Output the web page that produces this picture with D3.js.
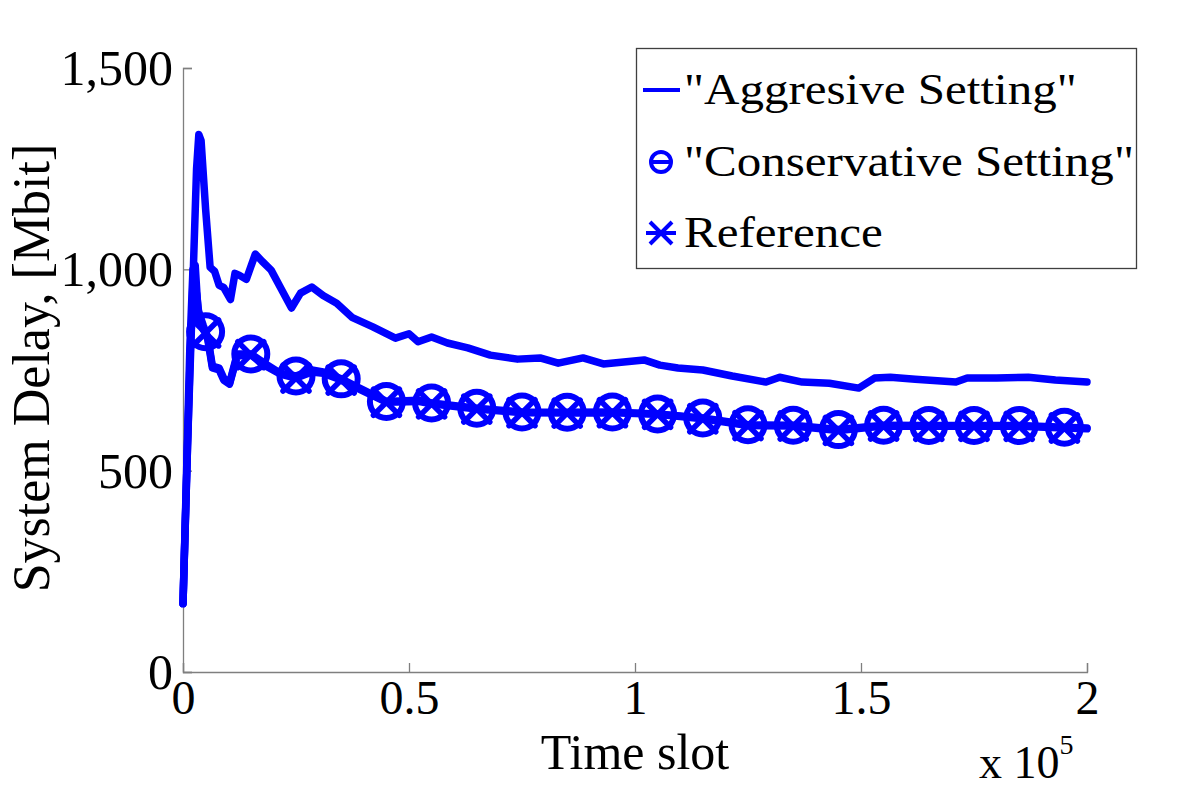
<!DOCTYPE html>
<html><head><meta charset="utf-8">
<script src="https://cdn.jsdelivr.net/npm/d3@7"></script>
<style>body{margin:0;background:#fff}svg{display:block}text{font-family:"Liberation Serif","Times New Roman",serif;fill:#000}</style>
</head><body><svg id="c" width="1200" height="791"></svg>
<script>
// ---- data ----
const aggX = [0,1000,2000,3000,3500,4000,5000,6000,7000,8000,9000,10500,11500,12500,14000,16000,17500,19500,21500,24000,26000,28500,31000,34000,37500,42000,47000,50000,52000,55000,58500,63000,68000,74000,79000,83000,88500,93000,102000,105500,109500,115000,121500,129000,132000,137000,143000,149500,153000,156500,162000,171000,173500,180000,187000,193000,200000];
const aggY = [170,560,900,1250,1335,1320,1150,1005,995,960,955,925,990,985,975,1038,1020,998,956,904,941,956,935,916,880,857,829,840,820,832,817,805,787,777,780,767,780,765,775,762,755,750,735,720,732,720,717,705,730,732,727,720,730,730,732,725,720];
const conX = [0,800,1500,2200,2700,3300,4500,5000,5500,6500,8000,9000,10300,12000,15000,18000,21500,25000,28500,31000,35000,38500,45000,52000,55000,65000,75000,85000,95000,105000,115000,125000,135000,145000,155000,165000,175000,185000,195000,200000];
const conY = [170,500,800,1000,1010,900,860,845,830,760,755,730,717,790,790,767,742,735,750,745,728,708,672,675,668,655,646,645,646,641,631,614,613,602,613,612,612,612,608,606];
const refX = [0,900,1700,2500,3000,3600,4500,5000,5500,6500,8000,9000,10300,12000,15000,18000,21500,25000,28500,31000,35000,38500,45000,52000,55000,65000,75000,85000,95000,105000,115000,125000,135000,145000,155000,165000,175000,185000,195000,200000];
const refY = [170,520,830,960,940,880,850,842,825,755,750,725,715,785,788,762,740,730,745,742,725,705,670,672,666,653,644,643,644,640,629,612,611,600,611,610,610,610,606,604];
const markerSlots = [5000,15000,25000,35000,45000,55000,65000,75000,85000,95000,105000,115000,125000,135000,145000,155000,165000,175000,185000,195000];
const xTicks = [0,50000,100000,150000,200000];
const xTickLabels = ["0","0.5","1","1.5","2"];
const yTicks = [0,500,1000,1500];
const yTickLabels = ["0","500","1,000","1,500"];
const legendLabels = ['"Aggresive Setting"','"Conservative Setting"','Reference'];

// ---- chart ----
const svg = d3.select("#c");
const x = d3.scaleLinear().domain([0,200000]).range([183,1087]);
const y = d3.scaleLinear().domain([0,1500]).range([672,68]);
const blue = "#0000ff";
const axisCol = "#7f7f7f";

// axes
const gx = svg.append("g").attr("transform","translate(0,672)")
  .call(d3.axisBottom(x).tickValues(xTicks).tickSize(-9).tickFormat((d,i)=>xTickLabels[i]).tickPadding(10));
const gy = svg.append("g").attr("transform","translate(183,0)")
  .call(d3.axisLeft(y).tickValues(yTicks).tickSize(-9).tickFormat((d,i)=>yTickLabels[i]).tickPadding(10));
[gx,gy].forEach(g=>{
  g.select(".domain").attr("stroke",axisCol).attr("stroke-width",1.3);
  g.selectAll(".tick line").attr("stroke",axisCol).attr("stroke-width",1.3);
  g.selectAll(".tick text").attr("font-size",50).attr("font-family","Liberation Serif").attr("fill","#000");
});
gx.selectAll(".tick text").attr("font-size",48).attr("dy","0.66em");
gy.selectAll(".tick text").attr("dy","0.33em");

// lines
const line = d3.line().x(d=>x(d[0])).y(d=>y(d[1]));
const series = [
  {xs:aggX, ys:aggY},
  {xs:refX, ys:refY},
  {xs:conX, ys:conY}
];
series.forEach(s=>{
  svg.append("path").datum(s.xs.map((v,i)=>[v,s.ys[i]]))
    .attr("d",line).attr("fill","none").attr("stroke",blue)
    .attr("stroke-width",7.5).attr("stroke-linejoin","round").attr("stroke-linecap","round");
});
// markers
const conPts = markerSlots.map(m=>[m, conY[conX.indexOf(m)]]);
const refPts = markerSlots.map(m=>[m, refY[refX.indexOf(m)]]);
svg.append("g").selectAll("circle").data(conPts).join("circle")
  .attr("cx",d=>x(d[0])).attr("cy",d=>y(d[1])).attr("r",16.5)
  .attr("fill","none").attr("stroke",blue).attr("stroke-width",6);
const cs = 13;
svg.append("g").selectAll("path").data(refPts).join("path")
  .attr("d",d=>{const cx=x(d[0]),cy=y(d[1]);return `M${cx-cs},${cy-cs}L${cx+cs},${cy+cs}M${cx-cs},${cy+cs}L${cx+cs},${cy-cs}`;})
  .attr("stroke",blue).attr("stroke-width",5.5).attr("stroke-linecap","round");

// labels
svg.append("text").attr("x",635).attr("y",769).attr("text-anchor","middle").attr("font-size",50).text("Time slot");
const ex = svg.append("text").attr("x",979).attr("y",778).attr("font-size",46);
ex.append("tspan").text("x 10");
ex.append("tspan").attr("dy",-24).attr("font-size",28).text("5");
svg.append("text").attr("transform","translate(49,368) rotate(-90)").attr("text-anchor","middle").attr("font-size",52).text("System Delay, [Mbit]");

// legend
const lg = svg.append("g");
lg.append("rect").attr("x",636.5).attr("y",48.5).attr("width",500).attr("height",220)
  .attr("fill","#fff").attr("stroke","#3f3f3f").attr("stroke-width",1.3);
const rowsY = [90,162,233];
legendLabels.forEach((t,i)=>{
  lg.append("text").attr("transform",`translate(684,${rowsY[i]+14}) scale(1.09,1)`).attr("font-size",45).text(t);
});
lg.append("line").attr("x1",643).attr("x2",680).attr("y1",rowsY[0]).attr("y2",rowsY[0]).attr("stroke",blue).attr("stroke-width",4);
lg.append("circle").attr("cx",661).attr("cy",rowsY[1]).attr("r",10).attr("fill","none").attr("stroke",blue).attr("stroke-width",4);
lg.append("line").attr("x1",651).attr("x2",671).attr("y1",rowsY[1]).attr("y2",rowsY[1]).attr("stroke",blue).attr("stroke-width",4);
const r2=rowsY[2];
lg.append("path").attr("d",`M${650},${r2-11}L${672},${r2+11}M${650},${r2+11}L${672},${r2-11}M${646},${r2}L${676},${r2}`)
  .attr("stroke",blue).attr("stroke-width",4);
</script></body></html>
